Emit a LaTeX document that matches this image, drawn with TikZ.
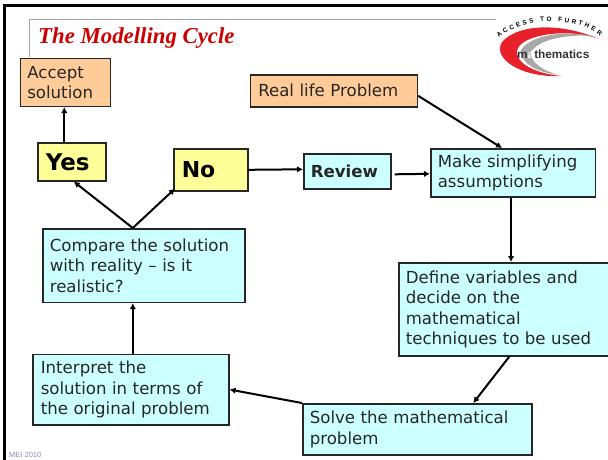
\documentclass[tikz,border=0pt]{standalone}
\usepackage{fontspec}
\setmainfont{DejaVu Sans}
\newfontfamily\titlefont{Liberation Serif}
\newfontfamily\smallfont{Liberation Sans}
\usetikzlibrary{arrows.meta,decorations.text}
\definecolor{cyanbox}{HTML}{CCFFFF}
\definecolor{orangebox}{HTML}{FFCC99}
\definecolor{yellowbox}{HTML}{FFFF99}
\definecolor{titlered}{HTML}{CC0000}
\definecolor{logored}{HTML}{E8202A}
\definecolor{logogray}{HTML}{A8A8A8}
\definecolor{meiblue}{HTML}{8A8AC0}
\tikzset{
  stepbox/.style={draw=black!85,line width=1.6pt,anchor=north west,inner sep=0pt,align=left,font=\fontsize{16.6}{20.4}\selectfont,text=black!85},
  cyanstep/.style={stepbox,fill=cyanbox},
  orangestep/.style={stepbox,fill=orangebox},
  answer/.style={stepbox,fill=yellowbox,font=\fontsize{23}{26}\selectfont\bfseries,text=black},
  link/.style={line width=2pt,-{Latex[length=6pt,width=6.5pt]}},
}
\begin{document}
\begin{tikzpicture}[x=1pt,y=-1pt]
\useasboundingbox (0,0) rectangle (608,459);
% frame and title rule
\draw[line width=2.5pt] (4.5,462) -- (4.5,5.5) -- (612,5.5);
\draw[gray!70,line width=1pt] (29,57) -- (29,19.5) -- (496,19.5);
\node[anchor=west,inner sep=0pt,text=titlered,font=\titlefont\fontsize{22.8}{24}\selectfont\bfseries\itshape] (title) at (38,38.5) {The Modelling Cycle};
\node[anchor=west,inner sep=0pt,text=meiblue,font=\smallfont\fontsize{7.5}{8}\selectfont] (mei) at (9,455) {MEI 2010};
% logo
\fill[logored] (599,39) .. controls (565,24) and (520,22) .. (502,42) .. controls (492,58) and (520,78) .. (562,76) .. controls (535,74) and (512,62) .. (518,48) .. controls (525,34) and (570,28) .. (599,39) -- cycle;
\fill[logogray] (592,36) .. controls (560,30) and (530,36) .. (521,50) .. controls (520,62) and (535,72) .. (558,75) .. controls (542,70) and (530,62) .. (531,52) .. controls (538,40) and (565,34) .. (592,36) -- cycle;
\path[decorate,decoration={text along path,text align={fit to path},text={|\smallfont\fontsize{6.4}{7}\selectfont\bfseries|ACCESS TO FURTHER}}] (499,38) .. controls (522,17) and (574,15) .. (600,36);
\node[anchor=west,inner sep=0pt,text=black!80,font=\smallfont\fontsize{11.8}{12}\selectfont\bfseries] (logotext) at (517,54.5) {m{\color{white}a}thematics};
% boxes
\node[orangestep,minimum width=90pt,minimum height=48pt,text width=90pt] (accept) at (19.5,57.5) {\hspace*{7pt}Accept\\\hspace*{7pt}solution};
\node[orangestep,minimum width=167pt,minimum height=32pt,text width=167pt] (real) at (249.5,74) {\hspace*{8pt}Real life Problem};
\node[answer,minimum width=68pt,minimum height=38pt,text width=68pt] (yes) at (37,142) {\hspace*{8pt}Yes};
\node[answer,minimum width=74pt,minimum height=42pt,text width=74pt,font=\fontsize{22}{26}\selectfont\bfseries] (no) at (173,148) {\hspace*{8pt}No};
\node[cyanstep,minimum width=87pt,minimum height=35pt,text width=87pt,font=\fontsize{16.6}{20}\selectfont\bfseries] (review) at (303,153) {\hspace*{7pt}Review};
\node[cyanstep,minimum width=164.5pt,minimum height=48pt,text width=164.5pt] (make) at (430,148) {\hspace*{7pt}Make simplifying\\\hspace*{7pt}assumptions};
\node[cyanstep,minimum width=213pt,minimum height=93pt,text width=213pt] (define) at (398,262) {\hspace*{7pt}Define variables and\\\hspace*{7pt}decide on the\\\hspace*{7pt}mathematical\\\hspace*{7pt}techniques to be used};
\node[cyanstep,minimum width=229pt,minimum height=51pt,text width=229pt] (solve) at (302,403) {\hspace*{7pt}Solve the mathematical\\\hspace*{7pt}problem};
\node[cyanstep,minimum width=196pt,minimum height=70.5pt,text width=196pt] (interpret) at (32,353.5) {\hspace*{8pt}Interpret the\\\hspace*{8pt}solution in terms of\\\hspace*{8pt}the original problem};
\node[cyanstep,minimum width=202pt,minimum height=73.5pt,text width=202pt] (compare) at (42,228) {\hspace*{7pt}Compare the solution\\\hspace*{7pt}with reality -- is it\\\hspace*{7pt}realistic?};
% connectors
\draw[link] ([xshift=-1pt]yes.north -| accept.south) -- ([xshift=-1pt]accept.south);
\draw[link] ([xshift=-11pt]compare.north) -- ([xshift=2pt]yes.south);
\draw[link] ([xshift=-11pt]compare.north) -- ([xshift=2pt,yshift=3pt]no.south west);
\draw[link] (no.east) -- ([yshift=2pt]review.west);
\draw[link] ([xshift=3pt,yshift=-3pt]review.east) -- ([yshift=-1pt]make.west);
\draw[link] ([yshift=-5pt]real.east) -- ([xshift=-11pt]make.north);
\draw[link] ([xshift=-2pt]make.south) -- ([xshift=-2pt]make.south |- define.north);
\draw[link] ([xshift=4pt]define.south) -- ([xshift=56pt]solve.north);
\draw[link] (solve.north west) -- (interpret.east);
\draw[link] ([xshift=2pt]interpret.north) -- ([xshift=-11pt]compare.south);
\end{tikzpicture}
\end{document}
